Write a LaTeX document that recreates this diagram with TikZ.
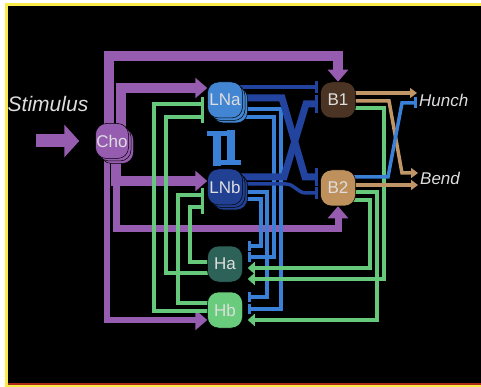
\documentclass[tikz,border=0pt]{standalone}
\usepackage{fontspec}
\setsansfont{Liberation Sans}
\usetikzlibrary{arrows.meta,shadows,backgrounds}
\definecolor{choC}{RGB}{150,92,175}
\definecolor{lnaC}{RGB}{66,133,210}
\definecolor{lnbC}{RGB}{34,64,145}
\definecolor{haC}{RGB}{44,98,88}
\definecolor{hbC}{RGB}{104,204,124}
\definecolor{bOneC}{RGB}{76,52,36}
\definecolor{bTwoC}{RGB}{190,145,92}
\definecolor{greenW}{RGB}{102,200,122}
\definecolor{blueW}{RGB}{58,128,214}
\definecolor{navyW}{RGB}{34,68,158}
\definecolor{tanW}{RGB}{192,150,102}
\definecolor{labelC}{RGB}{222,222,222}
\definecolor{frameY}{RGB}{250,236,72}
\definecolor{frameR}{RGB}{170,40,20}
\begin{document}
\begin{tikzpicture}[x=1pt, y=-1pt,
    neuron/.style={rectangle, rounded corners=11pt, minimum width=35pt, minimum height=36pt,
      inner sep=0pt, draw=black, line width=0.5pt, text=labelC,
      font=\sffamily\fontsize{17}{17}\selectfont},
    stacked/.style={double copy shadow={shadow xshift=2.5pt, shadow yshift=-2.5pt}},
    behav/.style={anchor=west, inner sep=0pt, text=labelC, font=\sffamily\itshape\fontsize{17}{17}\selectfont},
    purp/.style={line width=10pt, draw=choC, -{Triangle[length=12pt,width=20pt]}},
    gInh/.style={line width=4pt, draw=greenW, -{Bar[width=13pt,line width=3pt]}, shorten >=3pt},
    gExc/.style={line width=4pt, draw=greenW, -{Triangle[length=7pt,width=12pt]}, shorten >=5pt},
    bInh/.style={line width=4pt, draw=blueW, -{Bar[width=10pt,line width=3pt]}, shorten >=5pt},
    nThin/.style={line width=3.5pt, draw=navyW, -{Bar[width=12pt,line width=3pt]}, shorten >=2pt},
    nThick/.style={line width=7pt, draw=navyW, -{Bar[width=18pt,line width=3.5pt]}, shorten >=2pt},
    tExc/.style={line width=3.5pt, draw=tanW, -{Triangle[length=7pt,width=10pt]}, shorten >=2pt},
    mutual/.style={line width=8pt, draw=blueW, -{Bar[width=20pt,line width=5pt]}}]
    \useasboundingbox (0,0) rectangle (481,387);

    % neurons
    \node[neuron, stacked, fill=choC, minimum width=33pt, minimum height=35pt] (cho) at (112,141) {Cho};
    \node[neuron, stacked, fill=lnaC] (lna) at (225,100) {LNa};
    \node[neuron, stacked, fill=lnbC] (lnb) at (225,187) {LNb};
    \node[neuron, fill=haC] (ha) at (225,264) {Ha};
    \node[neuron, fill=hbC] (hb) at (225,310) {Hb};
    \node[neuron, fill=bOneC] (b1) at (338,100) {B1};
    \node[neuron, fill=bTwoC] (b2) at (338,188) {B2};

    % input and behaviours
    \node[inner sep=0pt, text=labelC, font=\sffamily\itshape\fontsize{21}{21}\selectfont] (stim) at (48,104) {Stimulus};
    \node[behav] (hunch) at (419,100) {Hunch};
    \node[behav] (bend) at (420,178) {Bend};
    \coordinate (stimtail) at (36,141);

    \begin{pgfonlayer}{background}
    % frame
    \fill[white] (0,0) rectangle (481,387);
    \fill[frameY] (5,3) rectangle (481,387);
    \fill[black] (8,6.5) rectangle (481,383);
    \fill[frameR] (8,383) rectangle (481,385);

    % Cho outputs
    \draw[line width=13pt, draw=choC, -{Triangle[length=15pt,width=32pt]}, shorten >=16pt] (stimtail) -- (cho.west);
    \draw[purp] ([xshift=-3pt,yshift=-6pt]cho.north) |- (338,56) -- (b1.north);
    \draw[purp] ([xshift=9pt,yshift=-6pt]cho.north) |- ([yshift=12pt]lna.west);
    \draw[purp] ([xshift=4pt,yshift=6pt]cho.south) |- ([yshift=6pt]lnb.west);
    \draw[purp, line width=7pt] ([xshift=4pt,yshift=6pt]cho.south) |- (338,228) -- (b2.south);
    \draw[purp, line width=6pt] ([xshift=-5pt,yshift=6pt]cho.south) |- ([yshift=-10pt]hb.west);

    % Ha, Hb onto LNa, LNb
    \draw[gInh] ([xshift=5pt,yshift=-1pt]hb.west) -| (154,104) -- ([yshift=-4pt]lna.west);
    \draw[gInh] ([xshift=5pt,yshift=-9pt]ha.west) -| (166,117) -- ([yshift=-17pt]lna.west);
    \draw[gInh] ([xshift=5pt,yshift=7pt]hb.west) -| (178,195) -- ([yshift=-8pt]lnb.west);
    \draw[gInh] ([xshift=5pt,yshift=2pt]ha.west) -| (190,207) -- ([yshift=-20pt]lnb.west);

    % LNa, LNb onto Ha, Hb
    \draw[bInh] ([xshift=-4pt,yshift=-12pt]lnb.east) -| (261,246) -- ([yshift=18pt]ha.east);
    \draw[bInh] ([xshift=-4pt,yshift=-5pt]lnb.east) -| (267,297) -- ([yshift=13pt]hb.east);
    \draw[bInh] ([xshift=-4pt,yshift=-17pt]lna.east) -| (274,257) -- ([yshift=7pt]ha.east);
    \draw[bInh] ([xshift=-4pt,yshift=-9pt]lna.east) -| (281,309) -- ([yshift=1pt]hb.east);

    % LNa, LNb onto B1, B2
    \draw[nThin] ([xshift=-4pt,yshift=13pt]lna.east) -- ([yshift=13pt]b1.west);
    \draw[nThick] ([xshift=-4pt,yshift=2pt]lna.east) -- (282,98) -- (305,177) -- ([yshift=11pt]b2.west);
    \draw[nThick] ([xshift=-4pt,yshift=10pt]lnb.east) -- (284,177) -- (306,104) -- ([yshift=-4pt]b1.west);
    \draw[nThin] ([xshift=-4pt,yshift=3pt]lnb.east) -- (286,184) to[out=0,in=180] (306,193) -- ([yshift=-5pt]b2.west);

    % LNa <-> LNb
    \draw[mutual, shorten <=3pt, shorten >=13pt] ([xshift=-8pt]lnb.north) -- ([xshift=-8pt]lna.south);
    \draw[mutual, shorten <=12pt, shorten >=4pt] ([xshift=6pt]lna.south) -- ([xshift=6pt]lnb.north);

    % B1, B2 onto Ha, Hb
    \draw[gExc] ([xshift=-4pt,yshift=-8pt]b1.east) -| (384,279) -- ([yshift=-15pt]ha.east);
    \draw[gExc] ([xshift=-4pt,yshift=-12pt]b2.east) -| (370,268) -- ([yshift=-4pt]ha.east);
    \draw[gExc] ([xshift=-4pt,yshift=-4pt]b2.east) -| (377,320) -- ([yshift=-10pt]hb.east);

    % B1, B2 onto behaviour
    \draw[tExc] ([xshift=-4pt,yshift=7pt]b1.east) -- ([yshift=7pt]hunch.west);
    \draw[tExc] ([xshift=-4pt,yshift=-1pt]b1.east) -- (389,101) -- (402,173) -- ([yshift=5pt]bend.west);
    \draw[tExc] ([xshift=-4pt,yshift=3pt]b2.east) -- ([yshift=-7pt]bend.west);
    \draw[line width=3.5pt, draw=blueW, -{Bar[width=11pt,line width=3pt]}, shorten >=2pt]
      ([xshift=-4pt,yshift=11pt]b2.east) -- (388,177) -- (402,103) -- ([yshift=-3pt]hunch.west);
    \end{pgfonlayer}
\end{tikzpicture}
\end{document}
